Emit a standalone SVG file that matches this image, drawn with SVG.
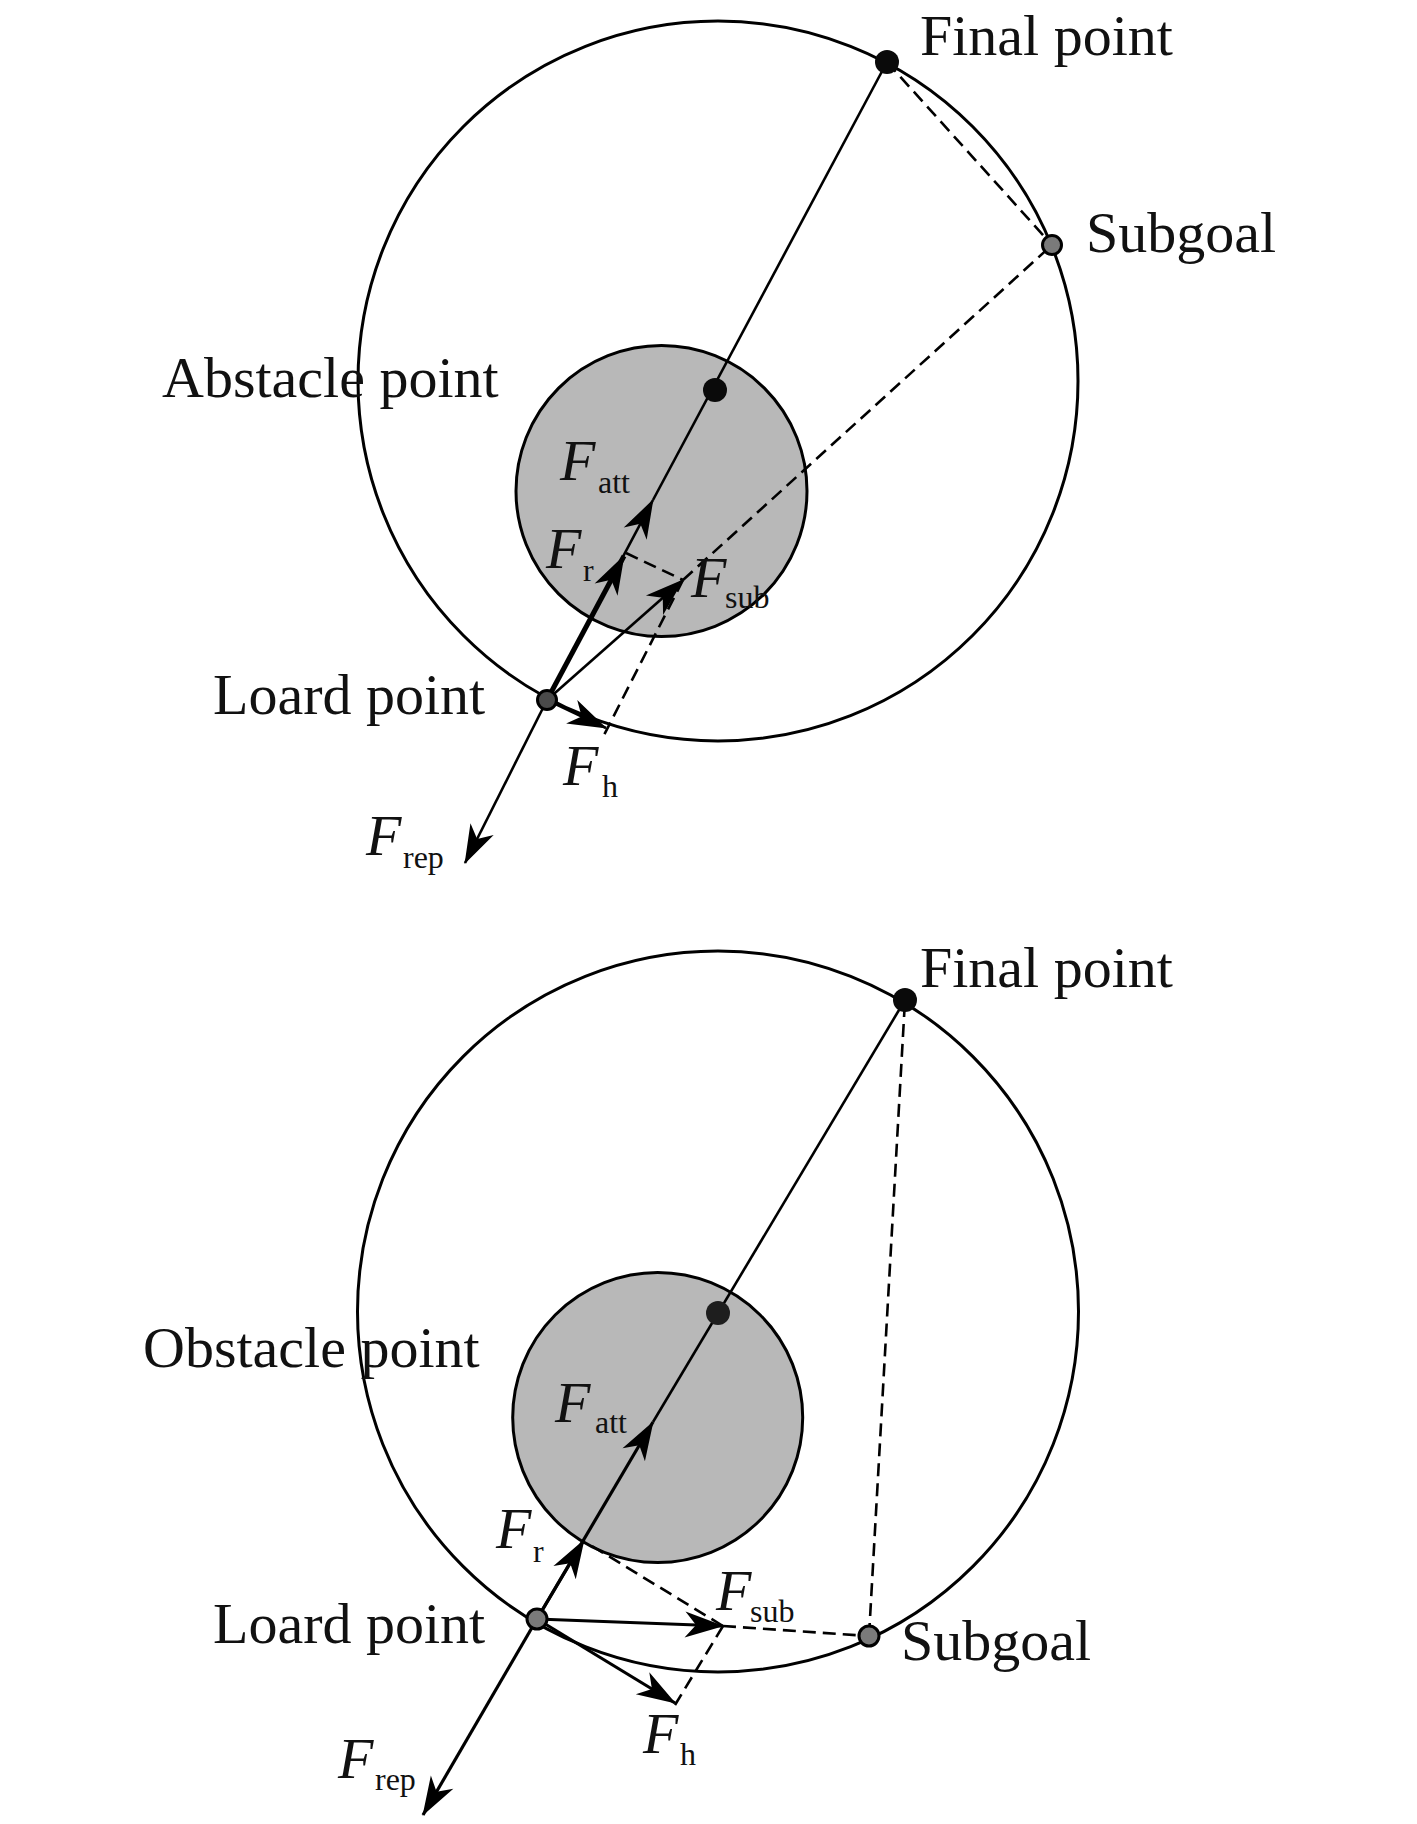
<svg xmlns="http://www.w3.org/2000/svg" width="1417" height="1824" viewBox="0 0 1417 1824">
<defs>
<style>
.lbl{font-family:"Liberation Serif","Times New Roman",serif;font-size:58px;fill:#111}
.F{font-family:"Liberation Serif","Times New Roman",serif;font-size:58px;font-style:italic;fill:#111}
.sub{font-family:"Liberation Serif","Times New Roman",serif;font-size:32px;fill:#111}
.outer{fill:none;stroke:#000;stroke-width:3}
.inner{fill:#b8b8b8;stroke:#000;stroke-width:3}
.ln{fill:none;stroke:#000;stroke-width:2.6}
.thick{fill:none;stroke:#000;stroke-width:5}
.mid{fill:none;stroke:#000;stroke-width:3.2}
.dash{fill:none;stroke:#000;stroke-width:2.6;stroke-dasharray:13 7}
.blk{fill:#0a0a0a}
.gry{fill:#7a7a7a;stroke:#000;stroke-width:3}
.dgry{fill:#4a4a4a;stroke:#000;stroke-width:3}
</style>
<marker id="ah" viewBox="-40 -14 42 28" refX="0" refY="0" markerWidth="42" markerHeight="28" markerUnits="userSpaceOnUse" orient="auto">
<path d="M1,0 L-38,-13 L-27,0 L-38,13 Z" fill="#000"/>
</marker>
</defs>
<rect width="1417" height="1824" fill="#fff"/>

<!-- TOP DIAGRAM -->
<g id="top-range"><circle class="outer" cx="718" cy="381" r="360"/></g>
<g id="top-obstacle"><circle class="inner" cx="661.5" cy="491" r="145.5"/></g>

<g id="top-connectors">
<line class="ln" x1="653" y1="500" x2="887" y2="62"/>
<line class="ln" x1="547" y1="700" x2="653" y2="500" marker-end="url(#ah)"/>
<line class="thick" x1="547" y1="700" x2="624" y2="556" marker-end="url(#ah)"/>
<line class="ln" x1="547" y1="700" x2="683" y2="580" marker-end="url(#ah)"/>
<line class="ln" x1="547" y1="700" x2="606" y2="728" marker-end="url(#ah)"/>
<line class="ln" x1="547" y1="700" x2="465" y2="863" marker-end="url(#ah)"/>
<line class="dash" x1="626" y1="553" x2="683" y2="580"/>
<line class="dash" x1="683" y1="580" x2="1052" y2="245"/>
<line class="dash" x1="683" y1="580" x2="603" y2="737"/>
<line class="dash" x1="887" y1="62" x2="1052" y2="245"/>
</g>

<g id="top-final"><circle class="blk" cx="887" cy="62" r="12"/><text class="lbl" x="920" y="55">Final point</text></g>
<g id="top-subgoal"><circle class="gry" cx="1052" cy="245" r="9.5"/><text class="lbl" x="1086" y="252">Subgoal</text></g>
<g id="top-obstacle-point"><circle class="blk" cx="715" cy="390" r="12"/><text class="lbl" x="162" y="397">Abstacle point</text></g>
<g id="top-load"><circle class="dgry" cx="547" cy="700" r="9.5"/><text class="lbl" x="213" y="714">Loard point</text></g>

<g id="top-force-labels">
<text class="F" x="560" y="480">F</text><text class="sub" x="598" y="493">att</text>
<text class="F" x="546" y="568">F</text><text class="sub" x="583" y="581">r</text>
<text class="F" x="691" y="597">F</text><text class="sub" x="725" y="608">sub</text>
<text class="F" x="563" y="785">F</text><text class="sub" x="602" y="797">h</text>
<text class="F" x="366" y="855">F</text><text class="sub" x="403" y="868">rep</text>
</g>

<!-- BOTTOM DIAGRAM -->
<g id="bot-range"><circle class="outer" cx="718" cy="1311.5" r="360.5"/></g>
<g id="bot-obstacle"><circle class="inner" cx="657.7" cy="1417.5" r="145"/></g>

<g id="bot-connectors">
<line class="ln" x1="653" y1="1422" x2="905" y2="1000"/>
<line class="mid" x1="537" y1="1619" x2="653" y2="1422" marker-end="url(#ah)"/>
<line class="mid" x1="537" y1="1619" x2="584" y2="1540" marker-end="url(#ah)"/>
<line class="mid" x1="537" y1="1619" x2="723" y2="1626" marker-end="url(#ah)"/>
<line class="mid" x1="537" y1="1619" x2="675" y2="1703" marker-end="url(#ah)"/>
<line class="mid" x1="537" y1="1619" x2="423" y2="1815" marker-end="url(#ah)"/>
<line class="dash" x1="592" y1="1546" x2="723" y2="1626"/>
<line class="dash" x1="723" y1="1626" x2="869" y2="1636"/>
<line class="dash" x1="723" y1="1626" x2="675" y2="1705"/>
<line class="dash" x1="869" y1="1636" x2="905" y2="1000"/>
</g>

<g id="bot-final"><circle class="blk" cx="905" cy="1000" r="12"/><text class="lbl" x="920" y="987">Final point</text></g>
<g id="bot-subgoal"><circle class="gry" cx="869" cy="1636" r="10"/><text class="lbl" x="901" y="1660">Subgoal</text></g>
<g id="bot-obstacle-point"><circle cx="718" cy="1313" r="12" fill="#1e1e1e"/><text class="lbl" x="143" y="1367">Obstacle point</text></g>
<g id="bot-load"><circle class="gry" cx="537" cy="1619" r="10" fill="#8a8a8a"/><text class="lbl" x="213" y="1643">Loard point</text></g>

<g id="bot-force-labels">
<text class="F" x="555" y="1422">F</text><text class="sub" x="595" y="1433">att</text>
<text class="F" x="496" y="1548">F</text><text class="sub" x="533" y="1562">r</text>
<text class="F" x="716" y="1610">F</text><text class="sub" x="750" y="1622">sub</text>
<text class="F" x="643" y="1753">F</text><text class="sub" x="680" y="1765">h</text>
<text class="F" x="338" y="1778">F</text><text class="sub" x="375" y="1790">rep</text>
</g>
</svg>
